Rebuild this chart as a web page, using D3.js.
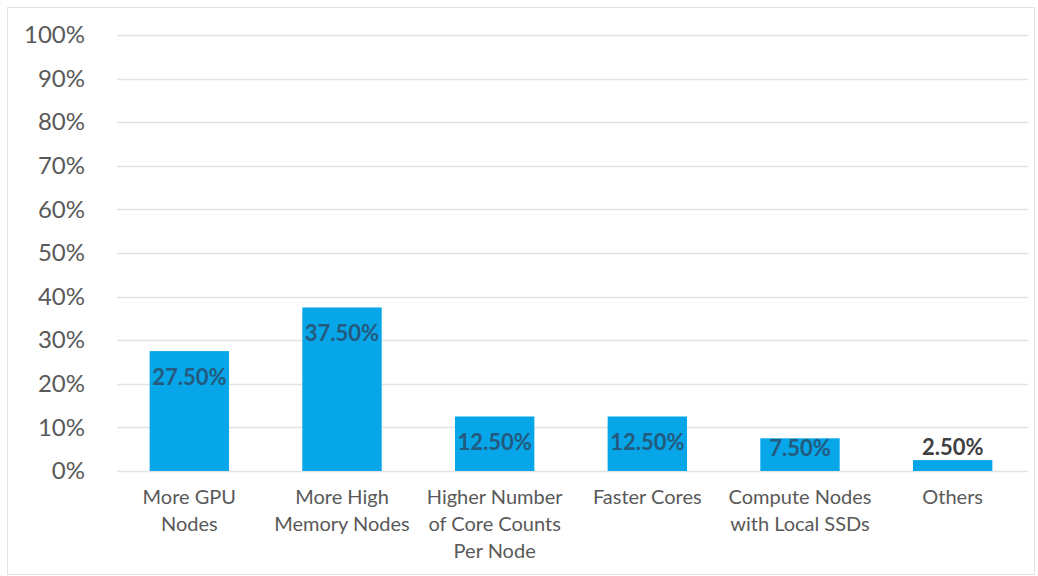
<!DOCTYPE html>
<html>
<head>
<meta charset="utf-8">
<script src="https://cdn.jsdelivr.net/npm/d3@7"></script>
<style>
  html, body { margin: 0; padding: 0; background: #ffffff; }
  svg { display: block; }
</style>
</head>
<body>
<svg id="chart" width="1038" height="576"></svg>
<script>
// Survey results: requested cluster improvements
const categories = [
  ["More GPU", "Nodes"],
  ["More High", "Memory Nodes"],
  ["Higher Number", "of Core Counts", "Per Node"],
  ["Faster Cores"],
  ["Compute Nodes", "with Local SSDs"],
  ["Others"]
];
const shares = [27.5, 37.5, 12.5, 12.5, 7.5, 2.5];
const tickValues = [0, 10, 20, 30, 40, 50, 60, 70, 80, 90, 100];

const plot = { left: 113, right: 1029, top: 35, bottom: 471 };
const font = "Lato, 'Open Sans', sans-serif";

const svg = d3.select("#chart");

// outer frame
svg.append("rect")
  .attr("x", 7.5).attr("y", 7.5)
  .attr("width", 1027).attr("height", 567)
  .attr("fill", "#ffffff")
  .attr("stroke", "#e3e3e3")
  .attr("stroke-width", 1);

const x = d3.scaleBand()
  .domain(categories.map((c, i) => i))
  .range([plot.left, plot.right])
  .paddingInner(0.48)
  .paddingOuter(0.24);

const y = d3.scaleLinear()
  .domain([0, 100])
  .range([plot.bottom, plot.top]);

// horizontal gridlines
svg.append("g")
  .selectAll("line")
  .data(tickValues)
  .join("line")
  .attr("x1", plot.left + 4)
  .attr("x2", plot.right - 1)
  .attr("y1", d => Math.round(y(d)) + 0.5)
  .attr("y2", d => Math.round(y(d)) + 0.5)
  .attr("stroke", "#e2e2e2")
  .attr("stroke-width", 1.5);

// y tick labels
const yLabels = svg.append("g")
  .attr("transform", `translate(${plot.left},0)`)
  .call(d3.axisLeft(y)
    .tickValues(tickValues)
    .tickSize(0)
    .tickPadding(28)
    .tickFormat(d => d + "%"));
yLabels.select(".domain").remove();
yLabels.selectAll("text")
  .attr("font-family", font)
  .attr("font-size", 24)
  .attr("fill", "#595959");

// bars
svg.append("g")
  .selectAll("rect")
  .data(shares)
  .join("rect")
  .attr("x", (d, i) => x(i))
  .attr("width", x.bandwidth())
  .attr("y", d => y(d))
  .attr("height", d => y(0) - y(d))
  .attr("fill", "#07a6e8");

// value labels: inside the top of tall bars, above short ones
const isShort = d => y(0) - y(d) < 28;
svg.append("g")
  .selectAll("text")
  .data(shares)
  .join("text")
  .attr("x", (d, i) => x(i) + x.bandwidth() / 2)
  .attr("y", d => isShort(d) ? y(d) - 13 : Math.min(y(d) + 26, y(0) - 23))
  .attr("dy", "0.36em")
  .attr("text-anchor", "middle")
  .attr("font-family", font)
  .attr("font-weight", "bold")
  .attr("font-size", 22)
  .attr("fill", d => isShort(d) ? "#404040" : "#235a7e")
  .text(d => d.toFixed(2) + "%");

// category labels
const cat = svg.append("g")
  .selectAll("text")
  .data(categories)
  .join("text")
  .attr("x", (d, i) => x(i) + x.bandwidth() / 2)
  .attr("y", 504)
  .attr("text-anchor", "middle")
  .attr("font-family", font)
  .attr("font-size", 20)
  .attr("fill", "#595959");
cat.selectAll("tspan")
  .data(d => d)
  .join("tspan")
  .attr("x", function () { return this.parentNode.getAttribute("x"); })
  .attr("dy", (d, i) => i === 0 ? 0 : 27)
  .text(d => d);
</script>
</body>
</html>
